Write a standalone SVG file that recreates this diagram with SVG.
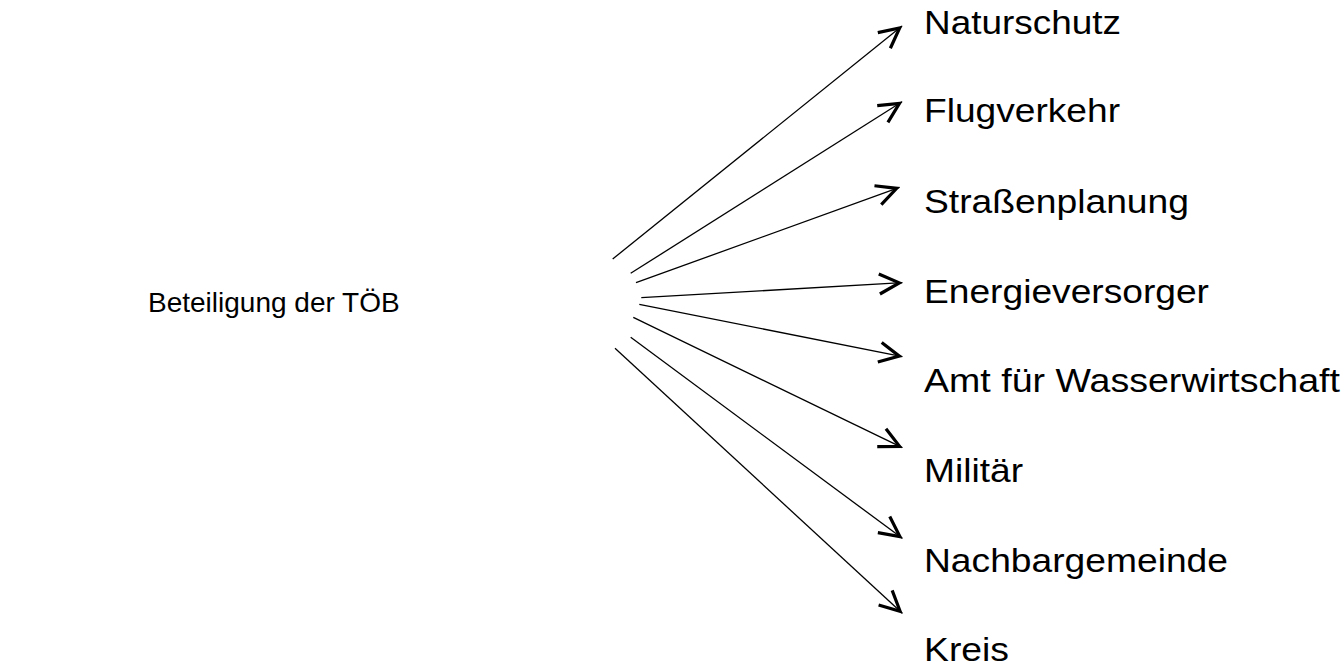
<svg xmlns="http://www.w3.org/2000/svg" width="1344" height="666" viewBox="0 0 1344 666">
<style>
text{font-family:"Liberation Sans",Arial,sans-serif;fill:#000}
.l{font-size:34px}
.c line{stroke:#000;stroke-width:1.3;fill:none;marker-end:url(#ah)}
</style>
<defs>
<marker id="ah" markerUnits="userSpaceOnUse" markerWidth="30" markerHeight="30" refX="23" refY="10" orient="auto" overflow="visible">
<path d="M0,0 L20,10 L0,20" fill="none" stroke="#000" stroke-width="3.2" stroke-linejoin="miter"/>
</marker>
</defs>
<rect width="1344" height="666" fill="#fff"/>
<g id="source"><text x="148" y="312" font-size="28">Beteiligung der TÖB</text></g>
<g class="c" id="connectors">
<line x1="612.7" y1="259" x2="902" y2="26"/>
<line x1="630.7" y1="273.3" x2="902" y2="101.7"/>
<line x1="636" y1="282.7" x2="899.5" y2="187.3"/>
<line x1="641.3" y1="297.7" x2="902.3" y2="282.7"/>
<line x1="639.3" y1="304.3" x2="902.3" y2="356.7"/>
<line x1="633.3" y1="317.3" x2="902.3" y2="447.7"/>
<line x1="630.7" y1="337.3" x2="902.3" y2="538.3"/>
<line x1="615" y1="348.3" x2="902.3" y2="613.3"/>
</g>
<g id="n1"><text class="l" x="924" y="34" textLength="197" lengthAdjust="spacingAndGlyphs">Naturschutz</text></g>
<g id="n2"><text class="l" x="924" y="122" textLength="196" lengthAdjust="spacingAndGlyphs">Flugverkehr</text></g>
<g id="n3"><text class="l" x="924" y="213" textLength="265" lengthAdjust="spacingAndGlyphs">Straßenplanung</text></g>
<g id="n4"><text class="l" x="924" y="303" textLength="285" lengthAdjust="spacingAndGlyphs">Energieversorger</text></g>
<g id="n5"><text class="l" x="924" y="392" textLength="416" lengthAdjust="spacingAndGlyphs">Amt für Wasserwirtschaft</text></g>
<g id="n6"><text class="l" x="924" y="482" textLength="99" lengthAdjust="spacingAndGlyphs">Militär</text></g>
<g id="n7"><text class="l" x="924" y="572" textLength="304" lengthAdjust="spacingAndGlyphs">Nachbargemeinde</text></g>
<g id="n8"><text class="l" x="924" y="661" textLength="85" lengthAdjust="spacingAndGlyphs">Kreis</text></g>
</svg>
